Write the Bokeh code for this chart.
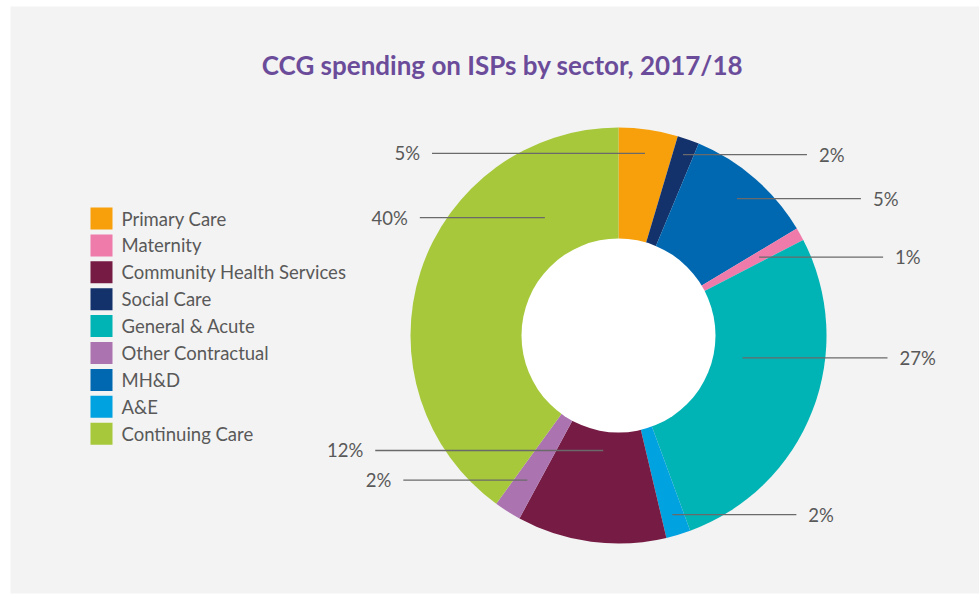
import math
from bokeh.plotting import figure
from bokeh.models import Range1d
from bokeh.core.properties import value
from bokeh.embed import file_html
from bokeh.resources import INLINE

# ---------------- data ----------------
title_text = "CCG spending on ISPs by sector, 2017/18"

# slices, clockwise from 12 o'clock
slice_names = ["Primary Care", "Social Care", "MH&D", "Maternity", "General & Acute",
               "A&E", "Community Health Services", "Other Contractual", "Continuing Care"]
slice_values = [4.6, 1.7, 10.1, 1.0, 27.0, 1.9, 11.6, 2.1, 40.0]
slice_labels = ["5%", "2%", "5%", "1%", "27%", "2%", "12%", "2%", "40%"]

legend_order = ["Primary Care", "Maternity", "Community Health Services", "Social Care",
                "General & Acute", "Other Contractual", "MH&D", "A&E", "Continuing Care"]

# ---------------- style ----------------
colors = {
    "Primary Care": "#f7a00b",
    "Maternity": "#ef7bab",
    "Community Health Services": "#761c44",
    "Social Care": "#13316b",
    "General & Acute": "#00b3b4",
    "Other Contractual": "#ab74b0",
    "MH&D": "#0068b0",
    "A&E": "#00a2e0",
    "Continuing Care": "#a6c83a",
}
FONT = "Lato"
TEXT_COL = "#595959"
LINE_COL = "#6a6a6a"
BG = "#f3f3f3"

W, H = 979, 594
CX_PIX, CY_PIX = 618, 335           # donut centre (px from top-left)
R_OUT, R_IN = 208, 97

# label leader layout (per slice): radius of anchor, angle shift (deg), line length, side
label_radius = [184, 192, 181, 161, 126, 187, 116, 171, 139]
label_shift = [0, 0, 0, 0, -11, 0, 0, 0, 40]
label_len = [213, 124, 124, 124, 145, 124, 228, 124, 125]
label_side = [-1, 1, 1, 1, 1, 1, -1, -1, -1]
GAP = 12

p = figure(width=W, height=H, output_backend="svg", toolbar_location=None,
           x_range=Range1d(-CX_PIX, W - CX_PIX), y_range=Range1d(-(H - CY_PIX), CY_PIX),
           min_border=0, background_fill_color="white", border_fill_color="white",
           outline_line_color=None)
p.axis.visible = False
p.grid.visible = False

# panel background
p.quad(left=10 - CX_PIX, right=W - CX_PIX, top=CY_PIX - 6, bottom=CY_PIX - 593,
       fill_color=BG, line_color=None)

# ---------------- donut ----------------
total = sum(slice_values)
cum = 0.0
mids = []
for name, v in zip(slice_names, slice_values):
    a0 = cum / total
    a1 = (cum + v) / total
    cum += v
    start = math.pi / 2 - 2 * math.pi * a0
    end = math.pi / 2 - 2 * math.pi * a1
    p.wedge(x=0, y=0, radius=R_OUT, start_angle=start, end_angle=end, direction="clock",
            fill_color=colors[name], line_color=None)
    mids.append((a0 + a1) / 2 * 360.0)

p.circle(x=0, y=0, radius=R_IN, fill_color="white", line_color=None)

# ---------------- leader lines & labels ----------------
for i, lab in enumerate(slice_labels):
    ang = math.radians(mids[i] + label_shift[i])
    ax = label_radius[i] * math.sin(ang)
    ay = label_radius[i] * math.cos(ang)
    if label_side[i] > 0:
        ex = ax + label_len[i]
        tx, align = ex + GAP, "left"
    else:
        ex = ax - label_len[i]
        tx, align = ex - GAP, "right"
    p.segment(x0=ax, y0=ay, x1=ex, y1=ay, line_color=LINE_COL, line_width=1.3)
    p.text(x=[tx], y=[ay], text=[lab], text_align=align, text_baseline="middle",
           text_font=value(FONT), text_font_size="18.5px", text_color=TEXT_COL)

# ---------------- legend ----------------
LEG_X = 101 - CX_PIX
LEG_Y0 = CY_PIX - 218
LEG_STEP = 26.9
for j, name in enumerate(legend_order):
    y = LEG_Y0 - j * LEG_STEP
    p.rect(x=LEG_X, y=y, width=22, height=22, fill_color=colors[name], line_color=None)
    p.text(x=[LEG_X + 20], y=[y], text=[name], text_align="left", text_baseline="middle",
           text_font=value(FONT), text_font_size="18.5px", text_color=TEXT_COL)

# ---------------- title ----------------
p.text(x=[502 - CX_PIX], y=[CY_PIX - 64], text=[title_text], text_align="center",
       text_baseline="middle", text_font=value(FONT), text_font_style="bold",
       text_font_size="26px", text_color="#6b4c9a")

open("out.html", "w").write(file_html(p, INLINE))
